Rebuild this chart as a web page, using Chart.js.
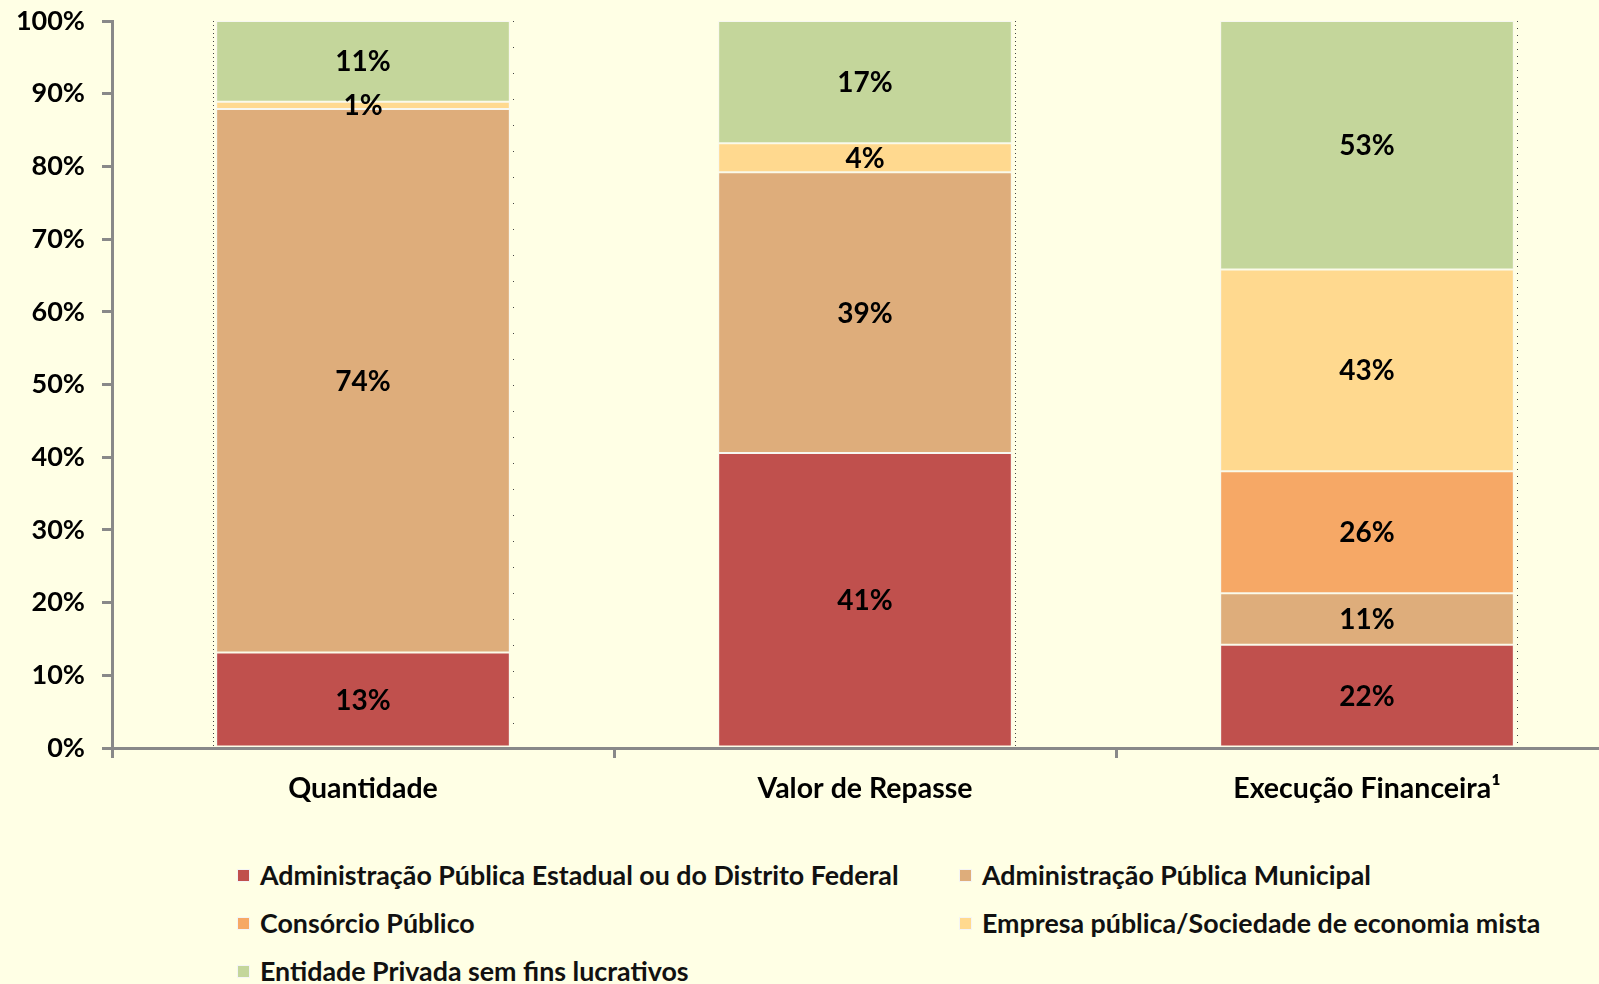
<!DOCTYPE html>
<html>
<head>
<meta charset="utf-8">
<script src="https://cdn.jsdelivr.net/npm/chart.js@4/dist/chart.umd.min.js"></script>
<style>
    html, body { margin: 0; padding: 0; background: #FFFFE5; overflow: hidden; }
    #wrap { position: relative; width: 1599px; height: 984px; overflow: hidden; background: #FFFFE5; }
    #chartBox { position: absolute; left: 0; top: 0; width: 1618px; height: 820px; }
    #legend { position: absolute; left: 0; top: 0; font-family: Lato, "Noto Sans", sans-serif; font-weight: bold; font-size: 26.8px; color: #111; }
    .legend-item { position: absolute; white-space: nowrap; line-height: 28px; }
    .legend-box { position: absolute; width: 11px; height: 11px; top: 9px; box-shadow: 0 0 0 1px #f4f4f4; }
</style>
</head>
<body>
<div id="wrap">
    <div id="chartBox"><canvas id="stackChart"></canvas></div>
    <div id="legend"></div>
</div>
<script>
// data (labels are the printed percentages)
const categories = ['Quantidade', 'Valor de Repasse', 'Execução Financeira¹'];
const seriesNames = [
    'Administração Pública Estadual ou do Distrito Federal',
    'Administração Pública Municipal',
    'Consórcio Público',
    'Empresa pública/Sociedade de economia mista',
    'Entidade Privada sem fins lucrativos'
];
const estadual = [13, 41, 22];
const municipal = [74, 39, 11];
const consorcio = [0, 0, 26];
const empresa = [1, 4, 43];
const privada = [11, 17, 53];
const yTicks = [0, 10, 20, 30, 40, 50, 60, 70, 80, 90, 100];

const seriesValues = [estadual, municipal, consorcio, empresa, privada];
const seriesColors = ['#C0504D', '#DEAD7B', '#F6A866', '#FFD98F', '#C4D69B'];

// bars are drawn as share of each column total (100% stacked)
const totals = categories.map((c, i) => seriesValues.reduce((s, arr) => s + arr[i], 0));

const labelFont = 'bold 28px Lato, "Noto Sans", sans-serif';

const barLabels = {
    id: 'barLabels',
    afterDatasetsDraw(chart) {
        const ctx = chart.ctx;
        ctx.save();
        ctx.font = labelFont;
        ctx.fillStyle = '#000';
        ctx.textAlign = 'center';
        ctx.textBaseline = 'middle';
        chart.data.datasets.forEach((ds, di) => {
            const meta = chart.getDatasetMeta(di);
            meta.data.forEach((bar, i) => {
                const raw = ds.raw[i];
                if (!raw) return;
                ctx.fillText(raw + '%', bar.x, (bar.y + bar.base) / 2 + 1);
            });
        });
        ctx.restore();
    }
};

// the faint dotted edges next to some bars
const edgeDots = {
    id: 'edgeDots',
    afterDatasetsDraw(chart) {
        const ctx = chart.ctx;
        const area = chart.chartArea;
        const bars = chart.getDatasetMeta(0).data;
        const marks = [
            { i: 0, side: -1, dash: [1, 3] },
            { i: 0, side: 1, dash: [1, 25] },
            { i: 1, side: 1, dash: [1, 3] },
            { i: 2, side: 1, dash: [1, 6] }
        ];
        ctx.save();
        ctx.strokeStyle = '#444';
        ctx.lineWidth = 1;
        marks.forEach(m => {
            const b = bars[m.i];
            const x = Math.round(b.x + m.side * (b.width / 2 + 3)) + 0.5;
            ctx.setLineDash(m.dash);
            ctx.beginPath();
            ctx.moveTo(x, area.top);
            ctx.lineTo(x, area.bottom);
            ctx.stroke();
        });
        ctx.restore();
    }
};

const ctx = document.getElementById('stackChart').getContext('2d');
const stackChart = new Chart(ctx, {
    type: 'bar',
    data: {
        labels: categories,
        datasets: seriesNames.map((name, k) => ({
            label: name,
            raw: seriesValues[k],
            data: seriesValues[k].map((v, i) => v / totals[i] * 100),
            backgroundColor: seriesColors[k],
            borderColor: '#F7F7F0',
            borderWidth: 1,
            borderSkipped: false,
            categoryPercentage: 1,
            barPercentage: 0.585
        }))
    },
    options: {
        responsive: true,
        maintainAspectRatio: false,
        animation: false,
        layout: { padding: { top: 21, left: 0, right: 0, bottom: 0 } },
        plugins: {
            legend: { display: false },
            tooltip: { enabled: false }
        },
        scales: {
            x: {
                stacked: true,
                afterFit: scale => {
                    scale.height = 72;
                    scale.paddingLeft = 0;
                    scale.paddingRight = 0;
                },
                border: { color: '#898989', width: 3 },
                grid: {
                    drawOnChartArea: false,
                    offset: true,
                    tickLength: 10,
                    lineWidth: 3,
                    color: '#898989'
                },
                ticks: {
                    color: '#000',
                    padding: 14,
                    font: { family: 'Lato, "Noto Sans", sans-serif', size: 28.5, weight: 'bold' }
                }
            },
            y: {
                stacked: true,
                min: 0,
                max: 100,
                afterFit: scale => {
                    scale.width = 112;
                    scale.paddingTop = 0;
                    scale.paddingBottom = 0;
                },
                afterBuildTicks: scale => { scale.ticks = yTicks.map(v => ({ value: v })); },
                border: { color: '#898989', width: 3 },
                grid: {
                    drawOnChartArea: false,
                    tickLength: 10,
                    lineWidth: 3,
                    color: '#898989'
                },
                ticks: {
                    color: '#000',
                    padding: 17,
                    font: { family: 'Lato, "Noto Sans", sans-serif', size: 27, weight: 'bold' },
                    callback: v => v + '%'
                }
            }
        }
    },
    plugins: [barLabels, edgeDots]
});

// legend in two columns, built from the same series
const legendPos = [
    { x: 238, y: 861 }, { x: 960, y: 861 },
    { x: 238, y: 909 }, { x: 960, y: 909 },
    { x: 238, y: 957 }
];
const legend = document.getElementById('legend');
seriesNames.forEach((name, k) => {
    const item = document.createElement('div');
    item.className = 'legend-item';
    item.style.left = legendPos[k].x + 'px';
    item.style.top = legendPos[k].y + 'px';
    item.style.paddingLeft = '22px';
    const box = document.createElement('span');
    box.className = 'legend-box';
    box.style.left = '0px';
    box.style.background = seriesColors[k];
    item.appendChild(box);
    item.appendChild(document.createTextNode(name));
    legend.appendChild(item);
});
</script>
</body>
</html>
